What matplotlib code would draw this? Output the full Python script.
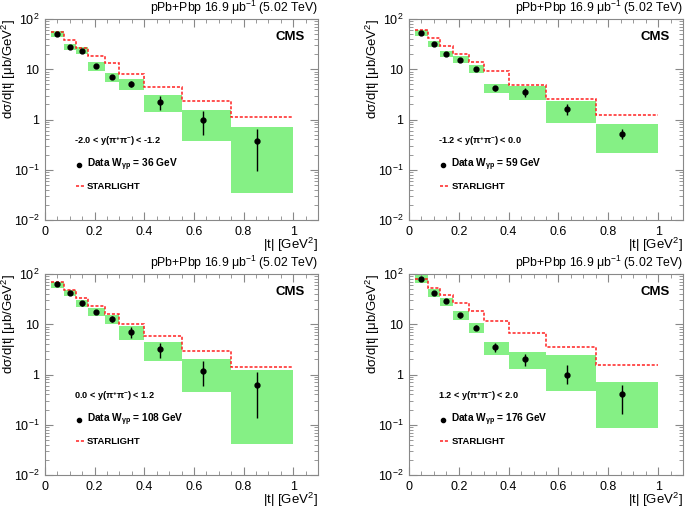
import numpy as np
import matplotlib
matplotlib.use('Agg')
from matplotlib import pyplot as plt
from matplotlib.ticker import LogLocator, MultipleLocator, FixedLocator, NullFormatter

edges = [0.025, 0.075, 0.125, 0.175, 0.24, 0.30, 0.40, 0.55, 0.75, 1.0]
x_mean = [0.05, 0.10, 0.15, 0.205, 0.27, 0.345, 0.465, 0.635, 0.855]

y_labels = ['-2.0 < y($\\pi^{+}\\pi^{-}$) < -1.2', '-1.2 < y($\\pi^{+}\\pi^{-}$) < 0.0',
            '0.0 < y($\\pi^{+}\\pi^{-}$) < 1.2', '1.2 < y($\\pi^{+}\\pi^{-}$) < 2.0']
w_gp = [36, 59, 108, 176]

# data points
data1 = [50, 27.7, 23.4, 11.4, 7.0, 5.1, 2.2, 0.97, 0.376]
data2 = [53, 32, 20, 15.5, 10.1, 4.15, 3.56, 1.63, 0.52]
data3 = [62, 42.5, 26, 17.7, 12.7, 7.0, 3.15, 1.2, 0.62]
data4 = [79, 42.5, 28.5, 15, 8.6, 3.5, 1.99, 1.0, 0.4]

# stat error bars (low, high)
stat_lo1 = [46, 25.5, 21.5, 10.4, 6.3, 4.5, 1.55, 0.5, 0.094]
stat_hi1 = [54, 30, 25.5, 12.5, 7.8, 5.8, 2.9, 1.45, 0.66]
stat_lo2 = [49, 29.5, 18.4, 14.2, 9.2, 3.7, 2.85, 1.25, 0.41]
stat_hi2 = [57, 34.5, 21.7, 16.8, 11.1, 4.6, 4.3, 2.05, 0.65]
stat_lo3 = [57, 39, 23.5, 16, 11.2, 5.4, 2.15, 0.58, 0.137]
stat_hi3 = [67, 46, 28.5, 19.5, 14.4, 8.9, 4.15, 1.85, 1.13]
stat_lo4 = [72, 39, 26, 13.6, 7.6, 2.8, 1.47, 0.65, 0.164]
stat_hi4 = [86, 46, 31, 16.5, 9.7, 4.15, 2.58, 1.53, 0.63]

# systematic boxes (low, high)
sys_lo1 = [44, 23.7, 20, 9.3, 5.7, 3.9, 1.38, 0.376, 0.035]
sys_hi1 = [57, 31.8, 27.2, 13.7, 8.4, 6.5, 3.1, 1.56, 0.72]
sys_lo2 = [46.5, 28.1, 17.2, 13.1, 8.3, 3.3, 2.5, 0.86, 0.22]
sys_hi2 = [61, 36.4, 23, 18, 12.1, 5.1, 4.7, 2.35, 0.81]
sys_lo3 = [53.5, 36.4, 22, 14.6, 9.9, 4.8, 1.85, 0.44, 0.042]
sys_hi3 = [70, 48.7, 30.3, 21.3, 15.2, 9.3, 4.35, 2.0, 1.22]
sys_lo4 = [67, 35.3, 23.4, 12.3, 6.8, 2.5, 1.26, 0.47, 0.088]
sys_hi4 = [95, 50, 33.7, 18.3, 10.4, 4.5, 2.75, 2.5, 0.71]

# STARLIGHT per bin
star1 = [55, 38, 26, 18.3, 13.1, 7.9, 4.4, 2.3, 1.10]
star2 = [60, 41, 28.5, 20.4, 13.7, 9.2, 4.9, 2.54, 1.22]
star3 = [70, 48, 32.7, 23, 15.7, 10.2, 5.8, 2.87, 1.4]
star4 = [81, 52.6, 37.6, 26, 18, 11.6, 6.6, 3.5, 1.53]

datas = [data1, data2, data3, data4]
stat_los = [stat_lo1, stat_lo2, stat_lo3, stat_lo4]
stat_his = [stat_hi1, stat_hi2, stat_hi3, stat_hi4]
sys_los = [sys_lo1, sys_lo2, sys_lo3, sys_lo4]
sys_his = [sys_hi1, sys_hi2, sys_hi3, sys_hi4]
stars = [star1, star2, star3, star4]

plt.rcParams['font.family'] = ['Liberation Sans', 'DejaVu Sans']
plt.rcParams['mathtext.fontset'] = 'custom'
plt.rcParams['mathtext.rm'] = 'Liberation Sans'
plt.rcParams['mathtext.it'] = 'Liberation Sans'
plt.rcParams['mathtext.bf'] = 'Liberation Sans:bold'
plt.rcParams['mathtext.default'] = 'regular'

W, H = 685, 509
fig = plt.figure(figsize=(6.85, 5.09), dpi=100)
# axes boxes in pixels: left, right, top, bottom
boxes = [(45, 318, 19, 220), (409, 683, 19, 220), (45, 318, 274, 475), (409, 683, 274, 475)]
green = '#85f085'
frame = '#888888'
red = '#ff2020'

for i in range(4):
    l, r, t, b = boxes[i]
    ax = fig.add_axes([l / W, 1 - b / H, (r - l) / W, (b - t) / H])
    ax.set_yscale('log')
    ax.set_xlim(0, 1.1)
    ax.set_ylim(0.01, 100)
    e = np.array(edges)
    lo = np.array(sys_los[i])
    hi = np.array(sys_his[i])
    ax.bar(e[:-1], hi - lo, width=np.diff(e), bottom=lo, align='edge',
           color=green, edgecolor='none', zorder=1)
    ax.stairs(stars[i], edges, baseline=None, color=red, linestyle=(0, (2, 1.2)),
              lw=1.1, zorder=2)
    d = np.array(datas[i])
    yerr = [d - np.array(stat_los[i]), np.array(stat_his[i]) - d]
    ax.errorbar(x_mean, d, yerr=yerr, fmt='o', color='black', ms=3.5,
                elinewidth=1.0, capsize=0, zorder=3)

    for s in ax.spines.values():
        s.set_color(frame)
        s.set_linewidth(0.8)
    ax.xaxis.set_major_locator(FixedLocator([0, 0.2, 0.4, 0.6, 0.8, 1.0]))
    ax.xaxis.set_minor_locator(MultipleLocator(0.05))
    ax.set_xticklabels(['0', '0.2', '0.4', '0.6', '0.8', '1'])
    ax.yaxis.set_minor_locator(LogLocator(base=10, subs=np.arange(2, 10), numticks=20))
    ax.yaxis.set_minor_formatter(NullFormatter())
    ax.set_yticks([0.01, 0.1, 1, 10, 100])
    ax.set_yticklabels(['10$^{-2}$', '10$^{-1}$', '1', '10', '10$^{2}$'])
    ax.tick_params(which='both', direction='in', top=True, right=True, color=frame,
                   labelsize=9, pad=4)
    ax.tick_params(which='major', length=6)
    ax.tick_params(which='minor', length=3)

    ax.set_xlabel('|t| [GeV$^{2}$]', fontsize=9.5, loc='right', labelpad=0)
    ax.xaxis.set_label_coords(1.0, -0.08)
    ax.set_ylabel('dσ/d|t| [μb/GeV$^{2}$]', fontsize=9.5, loc='top')
    ax.yaxis.set_label_coords(-0.10, 1.0)
    ax.text(1.0, 1.035, 'pPb+Pbp 16.9 μb$^{-1}$ (5.02 TeV)', transform=ax.transAxes,
            ha='right', va='baseline', fontsize=8.8)
    ax.text(0.95, 0.91, 'CMS', transform=ax.transAxes, ha='right', va='center',
            fontsize=9.5, fontweight='bold')
    ax.text(0.106, 0.393, y_labels[i], transform=ax.transAxes, ha='left', va='center',
            fontsize=6.6, fontweight='bold')
    ax.plot([0.125], [0.274], 'o', color='black', ms=3, transform=ax.transAxes)
    ax.text(0.154, 0.274, 'Data W$_{\\gamma p}$ = %d GeV' % w_gp[i], transform=ax.transAxes,
            ha='left', va='center', fontsize=7.3, fontweight='bold')
    ax.plot([0.113, 0.147], [0.169, 0.169], color=red, linestyle=(0, (2, 1.2)),
            lw=1.1, transform=ax.transAxes)
    ax.text(0.154, 0.169, 'STARLIGHT', transform=ax.transAxes, ha='left', va='center',
            fontsize=6.8, fontweight='bold')

fig.savefig('out.png', dpi=100)
